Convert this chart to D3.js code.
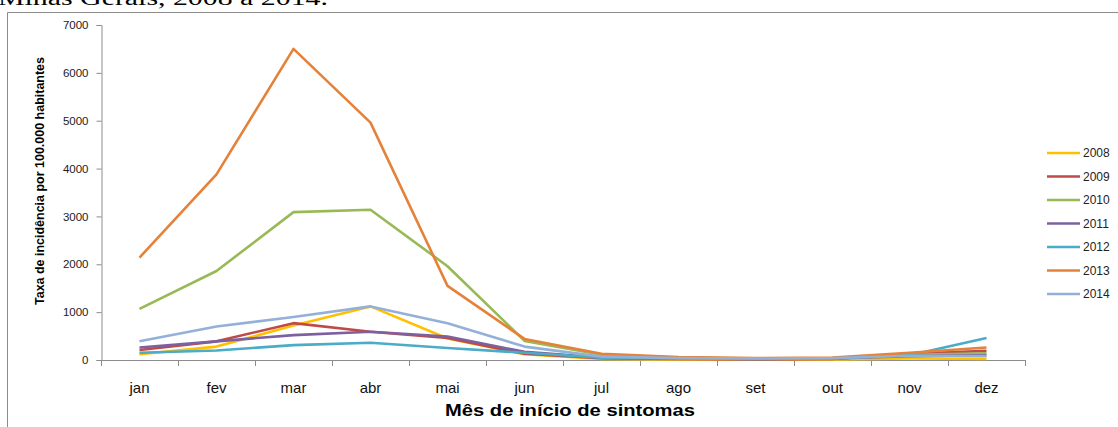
<!DOCTYPE html>
<html>
<head>
<meta charset="utf-8">
<script src="https://cdn.jsdelivr.net/npm/d3@7"></script>
<style>
  html, body { margin: 0; padding: 0; background: #fff; }
  svg { display: block; }
</style>
</head>
<body>
<svg id="chart" width="1118" height="427"></svg>
<script>
// Monthly incidence rate (per 100,000 inhabitants) by year of symptom onset
const months = ["jan", "fev", "mar", "abr", "mai", "jun", "jul", "ago", "set", "out", "nov", "dez"];
const years = ["2008", "2009", "2010", "2011", "2012", "2013", "2014"];
const yTicks = [0, 1000, 2000, 3000, 4000, 5000, 6000, 7000];

const rate2008 = [120, 280, 720, 1120, 450, 120, 20, 10, 5, 10, 30, 20];
const rate2009 = [210, 390, 770, 590, 460, 130, 40, 20, 10, 20, 130, 190];
const rate2010 = [1070, 1860, 3090, 3140, 1960, 400, 110, 50, 30, 40, 110, 140];
const rate2011 = [260, 390, 520, 590, 490, 170, 50, 30, 20, 30, 80, 100];
const rate2012 = [150, 200, 310, 360, 250, 150, 50, 30, 20, 30, 100, 460];
const rate2013 = [2140, 3880, 6500, 4960, 1550, 440, 130, 60, 40, 50, 150, 260];
const rate2014 = [390, 700, 900, 1120, 770, 280, 70, 40, 30, 40, 90, 80];

const seriesValues = [rate2008, rate2009, rate2010, rate2011, rate2012, rate2013, rate2014];
const colors = ["#FFC000", "#BE4B48", "#98B954", "#7D60A0", "#4AACC6", "#E5823A", "#94B0D8"];

const svg = d3.select("#chart");
const axisColor = "#8c8c8c";
const labelFont = "'Liberation Sans', 'DejaVu Sans', sans-serif";

// Caption line above the chart frame (partly cut at the top edge)
svg.append("text")
  .attr("x", -2).attr("y", 5)
  .attr("font-family", "'Liberation Serif', 'DejaVu Serif', serif")
  .attr("font-size", 20)
  .attr("textLength", 330).attr("lengthAdjust", "spacingAndGlyphs")
  .attr("fill", "#000")
  .text("Minas Gerais, 2008 a 2014.");

// Chart frame (left and top edges)
svg.append("path")
  .attr("d", "M7.5,427 V12.5 H1118")
  .attr("fill", "none").attr("stroke", axisColor).attr("stroke-width", 1);

const x = d3.scaleBand().domain(months).range([101, 1025]);
const y = d3.scaleLinear().domain([0, 7000]).range([360, 25]);
const cx = m => x(m) + x.bandwidth() / 2;

// Y axis
const yAxis = svg.append("g")
  .attr("transform", "translate(101.5,0)")
  .call(d3.axisLeft(y).tickValues(yTicks).tickSize(5).tickPadding(8).tickFormat(d3.format("d")));
yAxis.select(".domain").attr("stroke", axisColor);
yAxis.selectAll(".tick line").attr("stroke", axisColor);
yAxis.selectAll(".tick text")
  .attr("font-family", labelFont).attr("font-size", 11.5).attr("fill", "#222");

// X axis: labels centred on months, tick marks between months
const xAxis = svg.append("g")
  .attr("transform", "translate(0,360.5)")
  .call(d3.axisBottom(x).tickSize(0).tickPadding(22));
xAxis.select(".domain").remove();
xAxis.selectAll(".tick text")
  .attr("font-family", labelFont).attr("font-size", 15).attr("fill", "#111");

svg.append("line")
  .attr("x1", 101).attr("x2", 1025).attr("y1", 360.5).attr("y2", 360.5)
  .attr("stroke", axisColor);
const boundaries = months.map(m => x(m)).concat([x.range()[1]]);
svg.append("g").selectAll("line")
  .data(boundaries)
  .join("line")
  .attr("x1", d => Math.round(d) + 0.5).attr("x2", d => Math.round(d) + 0.5)
  .attr("y1", 360).attr("y2", 366)
  .attr("stroke", axisColor);

// Axis titles
svg.append("text")
  .attr("transform", "translate(44,181) rotate(-90)")
  .attr("text-anchor", "middle")
  .attr("font-family", labelFont).attr("font-weight", "bold").attr("font-size", 13.5)
  .attr("textLength", 248).attr("lengthAdjust", "spacingAndGlyphs")
  .attr("fill", "#000")
  .text("Taxa de incidência por 100.000 habitantes");

svg.append("text")
  .attr("x", 570).attr("y", 416)
  .attr("text-anchor", "middle")
  .attr("font-family", labelFont).attr("font-weight", "bold").attr("font-size", 16)
  .attr("textLength", 250).attr("lengthAdjust", "spacingAndGlyphs")
  .attr("fill", "#000")
  .text("Mês de início de sintomas");

// Series lines
const line = d3.line()
  .x((d, i) => cx(months[i]))
  .y(d => y(d));

svg.append("g").selectAll("path")
  .data(seriesValues)
  .join("path")
  .attr("d", d => line(d))
  .attr("fill", "none")
  .attr("stroke", (d, i) => colors[i])
  .attr("stroke-width", 2.6)
  .attr("stroke-linejoin", "round");

// Legend
const legend = svg.append("g").selectAll("g")
  .data(years)
  .join("g")
  .attr("transform", (d, i) => `translate(0,${153 + i * 23.5})`);
legend.append("line")
  .attr("x1", 1047).attr("x2", 1080).attr("y1", 0).attr("y2", 0)
  .attr("stroke", (d, i) => colors[i]).attr("stroke-width", 2.6);
legend.append("text")
  .attr("x", 1083).attr("y", 0).attr("dy", "0.35em")
  .attr("font-family", labelFont).attr("font-size", 12).attr("fill", "#222")
  .text(d => d);
</script>
</body>
</html>
